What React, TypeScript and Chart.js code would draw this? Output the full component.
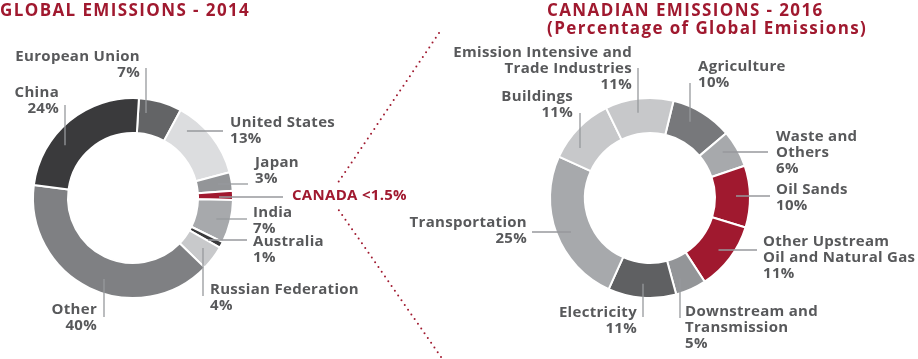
import React, { useEffect, useRef } from 'react';
import { Chart, registerables } from 'chart.js';

Chart.register(...registerables);

// ---------- DATA ----------
const globalCategories: string[][] = [
  ['European Union'], ['United States'], ['Japan'], ['CANADA'], ['India'],
  ['Australia'], ['Russian Federation'], ['Other'], ['China'],
];
const globalValues = [7, 13, 3, 1.5, 7, 1, 4, 40, 24];
const globalPctLabels = ['7%', '13%', '3%', '<1.5%', '7%', '1%', '4%', '40%', '24%'];

const canadaCategories: string[][] = [
  ['Agriculture'], ['Waste and', 'Others'], ['Oil Sands'], ['Other Upstream', 'Oil and Natural Gas'],
  ['Downstream and', 'Transmission'], ['Electricity'], ['Transportation'], ['Buildings'],
  ['Emission Intensive and', 'Trade Industries'],
];
const canadaValues = [10, 6, 10, 11, 5, 11, 25, 11, 11];
const canadaPctLabels = ['10%', '6%', '10%', '11%', '5%', '11%', '25%', '11%', '11%'];

const leftTitle = 'GLOBAL EMISSIONS - 2014';
const rightTitle = ['CANADIAN EMISSIONS - 2016', '(Percentage of Global Emissions)'];

// ---------- STYLES ----------
const CRIMSON = '#a0192f';
const TEXT = '#58595b';
const LEADER = '#97999c';

const globalColors = ['#636466', '#dcdddf', '#939598', CRIMSON, '#a7a9ac', '#3a3a3c', '#c8c9cb', '#7f8083', '#3a3a3c'];
const canadaColors = ['#77787b', '#a7a9ac', CRIMSON, CRIMSON, '#939598', '#5f6062', '#a7a9ac', '#c7c8ca', '#c7c8ca'];

type Layout = {
  align: 'left' | 'right';
  tx: number; ty: number;            // text anchor relative to donut centre
  dir: 'v' | 'h';                    // leader orientation
  at: number;                        // fixed coordinate of leader (x for v, y for h) rel. centre
  from: number;                      // outer end of leader rel. centre
  inline?: boolean; color?: string;
};

const globalLayout: Layout[] = [
  { align: 'right', tx: 7, ty: -141, dir: 'v', at: 13, from: -130 },
  { align: 'left', tx: 97, ty: -75, dir: 'h', at: -67, from: 90 },
  { align: 'left', tx: 122, ty: -35, dir: 'h', at: -14, from: 115 },
  { align: 'left', tx: 159, ty: -2, dir: 'h', at: -1, from: 150, inline: true, color: CRIMSON },
  { align: 'left', tx: 120, ty: 15, dir: 'h', at: 21, from: 114 },
  { align: 'left', tx: 120, ty: 44, dir: 'h', at: 42, from: 114 },
  { align: 'left', tx: 77, ty: 92, dir: 'v', at: 70, from: 98 },
  { align: 'right', tx: -36, ty: 112, dir: 'v', at: -29, from: 119 },
  { align: 'right', tx: -74, ty: -105, dir: 'v', at: -68, from: -93 },
];

const canadaLayout: Layout[] = [
  { align: 'left', tx: 48, ty: -131, dir: 'v', at: 40, from: -115 },
  { align: 'left', tx: 126, ty: -61, dir: 'h', at: -46, from: 118 },
  { align: 'left', tx: 126, ty: -8, dir: 'h', at: -2, from: 120 },
  { align: 'left', tx: 113, ty: 44, dir: 'h', at: 52, from: 107 },
  { align: 'left', tx: 35, ty: 114, dir: 'v', at: 30, from: 120 },
  { align: 'right', tx: -13, ty: 115, dir: 'v', at: -7, from: 119 },
  { align: 'right', tx: -123, ty: 25, dir: 'h', at: 34, from: -118 },
  { align: 'right', tx: -77, ty: -101, dir: 'v', at: -70, from: -85 },
  { align: 'right', tx: -18, ty: -145, dir: 'v', at: -12, from: -130 },
];

const FONT = 'bold 15px "Open Sans"';
const LINE_H = 16;

const leaderPlugin = {
  id: 'leaders',
  afterDatasetsDraw(chart: any, _args: any, opts: any) {
    const ctx: any = chart.ctx;
    const meta = chart.getDatasetMeta(0);
    const a0: any = meta.data[0];
    const cx = a0.x, cy = a0.y;
    const rEnd = a0.innerRadius + (a0.outerRadius - a0.innerRadius) * 0.6;
    const layout: Layout[] = opts.layout;
    const cats: string[][] = chart.data.labels;
    const pcts: string[] = opts.pct;
    ctx.save();

    // dotted divider
    if (opts.divider) {
      const pts = [[306, -165], [196, -2], [308, 159]];
      ctx.fillStyle = CRIMSON;
      for (let s = 0; s < pts.length - 1; s++) {
        const [x0, y0] = pts[s];
        const [x1, y1] = pts[s + 1];
        const len = Math.hypot(x1 - x0, y1 - y0);
        const n = Math.round(len / 5.8);
        for (let k = 0; k <= n; k++) {
          const t = k / n;
          ctx.beginPath();
          ctx.arc(cx + x0 + (x1 - x0) * t, cy + y0 + (y1 - y0) * t, 1, 0, Math.PI * 2);
          ctx.fill();
        }
      }
    }

    ctx.font = FONT;
    if ('letterSpacing' in ctx) ctx.letterSpacing = '0.3px';
    ctx.textBaseline = 'middle';
    layout.forEach((L, i) => {
      // leader
      ctx.strokeStyle = LEADER;
      ctx.lineWidth = 1.3;
      ctx.beginPath();
      if (L.dir === 'v') {
        const x = cx + L.at;
        const yIn = cy + Math.sign(L.from) * Math.sqrt(Math.max(rEnd * rEnd - L.at * L.at, 0));
        ctx.moveTo(x, cy + L.from);
        ctx.lineTo(x, yIn);
      } else {
        const y = cy + L.at;
        const xIn = cx + Math.sign(L.from) * Math.sqrt(Math.max(rEnd * rEnd - L.at * L.at, 0));
        ctx.moveTo(cx + L.from, y);
        ctx.lineTo(xIn, y);
      }
      ctx.stroke();

      // text
      const lines = L.inline ? [cats[i].join(' ') + ' ' + pcts[i]] : [...cats[i], pcts[i]];
      ctx.textAlign = L.align;
      const tx = cx + L.tx;
      if (L.inline) {
        const w = ctx.measureText(lines[0]).width;
        ctx.fillStyle = '#ffffff';
        ctx.fillRect(tx - 4, cy + L.ty - 11, w + 8, 22);
      }
      ctx.fillStyle = L.color || TEXT;
      lines.forEach((t, k) => ctx.fillText(t, tx, cy + L.ty + k * LINE_H));
    });
    ctx.restore();
  },
};

function Donut(props: { labels: string[][]; values: number[]; colors: string[]; pct: string[]; layout: Layout[]; rotation: number; padding: any; divider?: boolean }) {
  const ref = useRef<HTMLCanvasElement>(null);
  useEffect(() => {
    const chart = new Chart(ref.current as HTMLCanvasElement, {
      type: 'doughnut',
      data: {
        labels: props.labels as any,
        datasets: [{ data: props.values, backgroundColor: props.colors, borderColor: '#ffffff', borderWidth: 2 }],
      },
      options: {
        responsive: false,
        animation: false,
        events: [],
        radius: 100,
        cutout: '65%',
        rotation: props.rotation,
        layout: { padding: props.padding },
        plugins: {
          legend: { display: false },
          tooltip: { enabled: false },
          leaders: { layout: props.layout, pct: props.pct, divider: !!props.divider },
        } as any,
      } as any,
      plugins: [leaderPlugin as any],
    });
    return () => chart.destroy();
  }, []);
  return <canvas ref={ref} width={918} height={359} style={{ position: 'absolute', left: 0, top: 0 }} />;
}

export default function App() {
  const titleStyle: React.CSSProperties = {
    position: 'absolute', margin: 0, fontFamily: '"Open Sans", sans-serif', fontWeight: 700,
    fontSize: 17, lineHeight: '18px', letterSpacing: '1.4px', color: CRIMSON, whiteSpace: 'nowrap', zIndex: 2,
  };
  return (
    <div style={{ position: 'absolute', left: 0, top: 0, width: 918, height: 359, background: '#fff', overflow: 'hidden' }}>
      <Donut labels={globalCategories} values={globalValues} colors={globalColors} pct={globalPctLabels}
        layout={globalLayout} rotation={3.4} padding={{ left: 0, right: 652, top: 37, bottom: 0 }} divider />
      <Donut labels={canadaCategories} values={canadaValues} colors={canadaColors} pct={canadaPctLabels}
        layout={canadaLayout} rotation={13.6} padding={{ left: 382, right: 0, top: 37, bottom: 0 }} />
      <div style={{ ...titleStyle, left: 0, top: 1 }}>{leftTitle}</div>
      <div style={{ ...titleStyle, left: 547, top: 1 }}>{rightTitle[0]}<br />{rightTitle[1]}</div>
    </div>
  );
}
